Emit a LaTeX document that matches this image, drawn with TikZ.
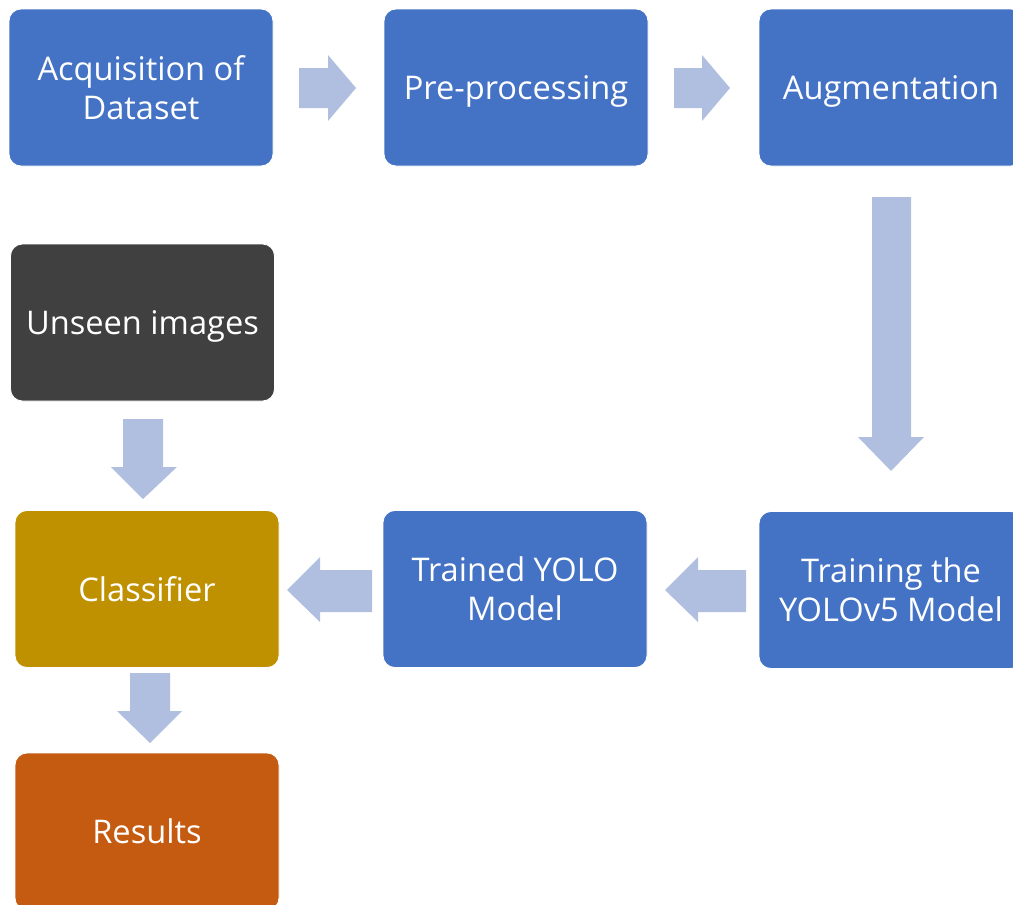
\documentclass[tikz,border=0pt]{standalone}
\usepackage{fontspec}
\setmainfont{Open Sans}
\definecolor{boxblue}{HTML}{4472C4}
\definecolor{boxdark}{HTML}{404040}
\definecolor{boxgold}{HTML}{BF9000}
\definecolor{boxorange}{HTML}{C55A11}
\definecolor{arrowfill}{HTML}{B0BEE0}
\begin{document}
\begin{tikzpicture}[x=1pt,y=-1pt,
  stepbox/.style={rounded corners=12pt, minimum width=264pt, minimum height=157pt,
    inner sep=0pt, text=white, align=center, draw=white, line width=0.8pt,
    font=\fontsize{32.6}{39}\selectfont},
  oneline/.style={text depth=0pt},
  blockarrow/.style={fill=arrowfill, draw=none}]
\useasboundingbox (0,0) rectangle (1013,905);
\clip (0,0) rectangle (1013,905);
% boxes
\node[stepbox, fill=boxblue] (acq) at (141,87.5) {Acquisition of\\Dataset};
\node[stepbox, oneline, fill=boxblue] (pre) at (516,87.5) {Pre-processing};
\node[stepbox, oneline, fill=boxblue] (aug) at (891,87.5) {Augmentation};
\node[stepbox, oneline, fill=boxdark] (unseen) at (142.5,322.5) {Unseen images};
\node[stepbox, oneline, fill=boxgold] (cls) at (147,589) {Classifier};
\node[stepbox, fill=boxblue] (trained) at (515,589) {Trained YOLO\\Model};
\node[stepbox, fill=boxblue] (train) at (891,590) {Training the\\YOLOv5 Model};
\node[stepbox, oneline, fill=boxorange] (res) at (147,831.5) {Results};
% block arrows
% acq -> pre
\fill[blockarrow] (299,68) -- (328,68) -- (328,55) -- (356,88) -- (328,121) -- (328,108) -- (299,108) -- cycle;
% pre -> aug
\fill[blockarrow] (674,68) -- (702,68) -- (702,55) -- (730,88) -- (702,121) -- (702,108) -- (674,108) -- cycle;
% aug -> train
\fill[blockarrow] (872,197) -- (911,197) -- (911,437) -- (924,437) -- (891,471) -- (858,437) -- (872,437) -- cycle;
% train -> trained
\fill[blockarrow] (746,570) -- (698,570) -- (698,557) -- (665,590) -- (698,622) -- (698,612) -- (746,612) -- cycle;
% trained -> cls
\fill[blockarrow] (372,570) -- (320,570) -- (320,557) -- (287,590) -- (320,622) -- (320,612) -- (372,612) -- cycle;
% unseen -> cls
\fill[blockarrow] (123,419) -- (163,419) -- (163,467) -- (177,467) -- (143,499) -- (111,467) -- (123,467) -- cycle;
% cls -> res
\fill[blockarrow] (130,673) -- (170,673) -- (170,711) -- (182,711) -- (150,743) -- (117,711) -- (130,711) -- cycle;
\end{tikzpicture}
\end{document}
